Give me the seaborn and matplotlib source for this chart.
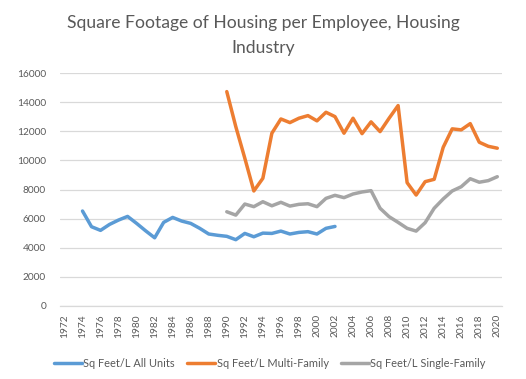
import numpy as np
import pandas as pd
import matplotlib
matplotlib.use("Agg")
import matplotlib.pyplot as plt
import seaborn as sns

years = list(range(1972, 2021))

all_years = list(range(1974, 2003))
all_units = [6520, 5440, 5190, 5600, 5900, 6150, 5670, 5160, 4680, 5740,
             6080, 5830, 5670, 5330, 4940, 4850, 4780, 4550, 4980, 4750,
             5000, 4980, 5140, 4940, 5050, 5100, 4940, 5330, 5460]

mf_years = list(range(1990, 2021))
multi_family = [14730, 12320, 10150, 7900, 8770, 11870, 12850, 12600, 12900, 13080,
                12720, 13310, 13010, 11870, 12900, 11840, 12650, 11980, 12900, 13770,
                8470, 7620, 8540, 8700, 10900, 12170, 12100, 12530, 11250, 10970,
                10840]

sf_years = list(range(1990, 2021))
single_family = [6470, 6240, 7000, 6820, 7160, 6880, 7120, 6860, 6980, 7020,
                 6820, 7390, 7600, 7440, 7690, 7830, 7920, 6710, 6130, 5740,
                 5330, 5140, 5720, 6710, 7350, 7900, 8190, 8740, 8500, 8610,
                 8880]

series_names = ["Sq Feet/L All Units", "Sq Feet/L Multi-Family", "Sq Feet/L Single-Family"]
colors = ["#5b9bd5", "#ed7d31", "#a5a5a5"]
title_lines = ["Square Footage of Housing per Employee, Housing", "Industry"]
y_ticks = list(range(0, 16001, 2000))
x_ticks = list(range(1972, 2021, 2))

df = pd.concat([
    pd.DataFrame({"Year": all_years, "Value": all_units, "Series": series_names[0]}),
    pd.DataFrame({"Year": mf_years, "Value": multi_family, "Series": series_names[1]}),
    pd.DataFrame({"Year": sf_years, "Value": single_family, "Series": series_names[2]}),
])

sns.set_style("white")
plt.rcParams["font.family"] = ["Lato", "DejaVu Sans"]

fig = plt.figure(figsize=(5.26, 3.79), dpi=100)
ax = fig.add_axes([0.114, 0.193, 0.84, 0.614])

sns.lineplot(data=df, x="Year", y="Value", hue="Series", hue_order=series_names,
             palette=colors, linewidth=2.5, ax=ax, legend=True)

ax.set_xlim(1971.5, 2020.5)
ax.set_ylim(0, 16000)
ax.set_yticks(y_ticks)
ax.set_yticklabels([str(v) for v in y_ticks], fontsize=7.3, color="#595959")
ax.set_xticks(x_ticks)
ax.set_xticklabels([str(v) for v in x_ticks], rotation=90, fontsize=7.3, color="#595959")
ax.tick_params(axis="y", length=0, pad=10)
ax.tick_params(axis="x", length=0, pad=6)
ax.yaxis.grid(True, color="#d9d9d9", linewidth=0.9)
ax.set_axisbelow(True)
for s in ["top", "right", "left"]:
    ax.spines[s].set_visible(False)
ax.spines["bottom"].set_color("#d9d9d9")
ax.spines["bottom"].set_linewidth(0.9)
ax.set_xlabel("")
ax.set_ylabel("")

fig.text(0.5, 1 - 28 / 379, title_lines[0],
         ha="center", va="baseline", fontsize=12.6, color="#595959")
fig.text(0.5, 1 - 53 / 379, title_lines[1],
         ha="center", va="baseline", fontsize=12.6, color="#595959")

leg = ax.legend(loc="center", bbox_to_anchor=(0.475, -0.249), ncol=3, frameon=False,
                fontsize=7.9, handlelength=2.55, columnspacing=1.1, handletextpad=0.15,
                labelcolor="#595959")

fig.savefig("out.png", dpi=100)
